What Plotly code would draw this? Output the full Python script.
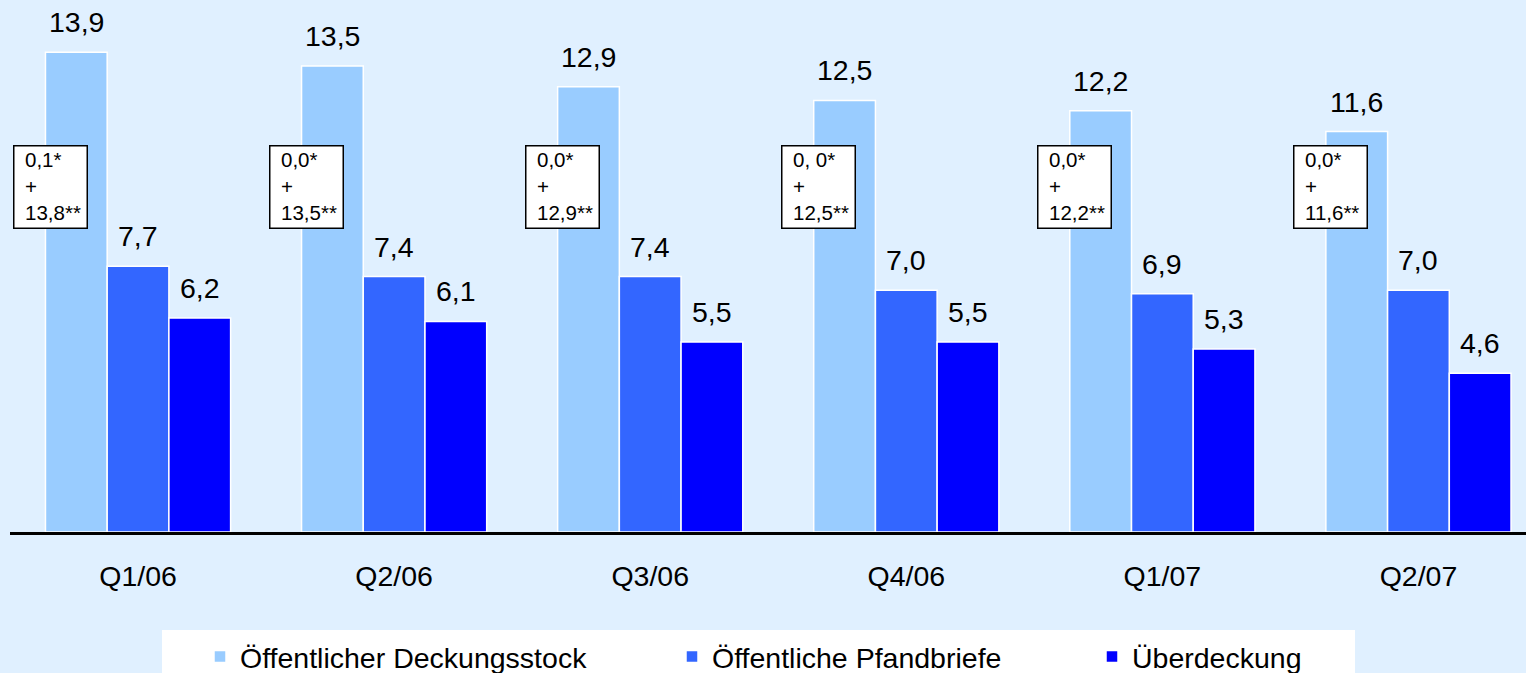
import plotly.graph_objects as go

categories = ["Q1/06", "Q2/06", "Q3/06", "Q4/06", "Q1/07", "Q2/07"]
deckungsstock = [13.9, 13.5, 12.9, 12.5, 12.2, 11.6]
pfandbriefe = [7.7, 7.4, 7.4, 7.0, 6.9, 7.0]
ueberdeckung = [6.2, 6.1, 5.5, 5.5, 5.3, 4.6]
box_part1 = ["0,1*", "0,0*", "0,0*", "0, 0*", "0,0*", "0,0*"]
box_part2 = ["13,8**", "13,5**", "12,9**", "12,5**", "12,2**", "11,6**"]

series = [
    ("Öffentlicher Deckungsstock", deckungsstock, "#99CCFF", "legend"),
    ("Öffentliche Pfandbriefe", pfandbriefe, "#3366FF", "legend2"),
    ("Überdeckung", ueberdeckung, "#0000FF", "legend3"),
]

FONT = "Liberation Sans, Arial, sans-serif"
BG = "#E0F0FF"
FS = 28.5

fig = go.Figure()
for name, vals, color, lg in series:
    fig.add_trace(go.Bar(
        x=categories, y=vals, name=name, legend=lg,
        marker=dict(color=color, line=dict(color="white", width=1.5)),
        hoverinfo="skip",
    ))

annotations = []
offsets = [-62, 0, 62]
for (name, vals, color, lg), off in zip(series, offsets):
    for c, v in zip(categories, vals):
        annotations.append(dict(
            x=c, y=v, xref="x", yref="y", xshift=off, yshift=30,
            text=f"{v:.1f}".replace(".", ","), showarrow=False,
            xanchor="center", yanchor="middle",
            font=dict(family=FONT, size=FS, color="black"),
        ))

for c, a, b in zip(categories, box_part1, box_part2):
    # frame
    annotations.append(dict(
        x=c, y=11.21, xref="x", yref="y", xshift=-125,
        text=" ", showarrow=False,
        xanchor="left", yanchor="top",
        width=72, height=81, borderpad=0, borderwidth=1.5,
        bordercolor="black", bgcolor="white",
        font=dict(family=FONT, size=10, color="black"),
    ))
    # text
    annotations.append(dict(
        x=c, y=11.21, xref="x", yref="y", xshift=-114, yshift=-2,
        text=f"{a}<br>+<br>{b}", showarrow=False,
        xanchor="left", yanchor="top", align="left",
        borderpad=0,
        font=dict(family=FONT, size=20.5, color="black"),
    ))

W, H = 1526, 673
L, B = 10, 141
plot_h = H - B

def py2paper(py):
    return (plot_h - py) / plot_h

def px2paper(px):
    return (px - L) / (W - L)

shapes = [dict(
    type="rect", xref="paper", yref="paper", layer="below",
    x0=px2paper(162), x1=px2paper(1355), y0=py2paper(690), y1=py2paper(630),
    fillcolor="white", line=dict(width=0),
)]

leg_common = dict(
    orientation="h", yanchor="middle", xanchor="left",
    bgcolor="rgba(0,0,0,0)", borderwidth=0,
    font=dict(family=FONT, size=FS, color="black"),
)

fig.update_layout(
    width=W, height=H,
    margin=dict(l=L, r=0, t=0, b=B, autoexpand=False),
    paper_bgcolor=BG, plot_bgcolor=BG,
    barmode="group", bargap=0.277, bargroupgap=0,
    annotations=annotations, shapes=shapes,
    legend=dict(x=px2paper(200), y=py2paper(657), **leg_common),
    legend2=dict(x=px2paper(672), y=py2paper(657), **leg_common),
    legend3=dict(x=px2paper(1092), y=py2paper(657), **leg_common),
    xaxis=dict(
        range=[-0.5, 5.42], showline=True, linecolor="black", linewidth=3,
        showgrid=False, zeroline=False, ticks="", ticklabelstandoff=17,
        tickfont=dict(family=FONT, size=FS, color="black"),
    ),
    yaxis=dict(range=[0, 15.41], visible=False, showgrid=False, zeroline=False),
    showlegend=True,
)

fig.write_html(
    "out.html",
    config={"displayModeBar": False},
    post_script="document.body.style.margin='0';document.body.style.overflow='hidden';",
)
